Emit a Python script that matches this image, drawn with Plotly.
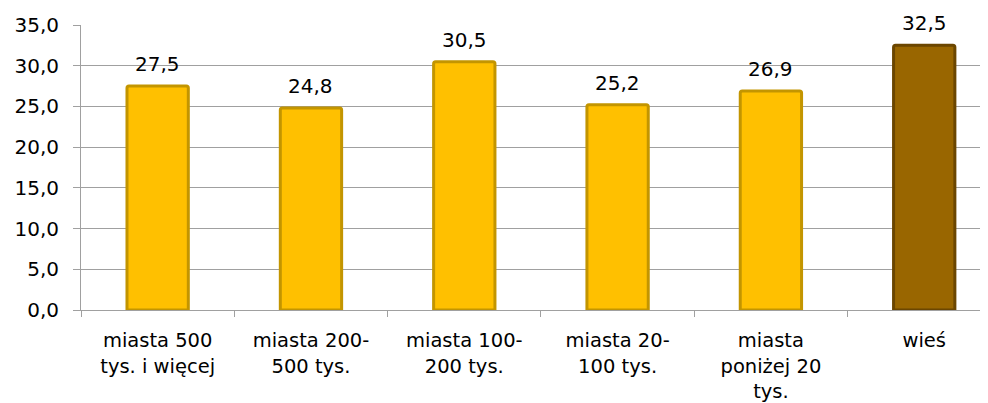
import plotly.graph_objects as go

categories = ["miasta 500<br>tys. i więcej", "miasta 200-<br>500 tys.", "miasta 100-<br>200 tys.",
              "miasta 20-<br>100 tys.", "miasta<br>poniżej 20<br>tys.", "wieś"]
values = [27.5, 24.8, 30.5, 25.2, 26.9, 32.5]
fill_colors = ["#FFC000", "#FFC000", "#FFC000", "#FFC000", "#FFC000", "#996600"]
line_colors = ["#C39500", "#C39500", "#C39500", "#C39500", "#C39500", "#6B4600"]
y_ticks = [0, 5, 10, 15, 20, 25, 30, 35]

FONT = "DejaVu Sans, Arial, sans-serif"

fig = go.Figure()
fig.add_trace(go.Bar(
    x=categories, y=values, width=0.40,
    marker=dict(color=fill_colors, line=dict(color=line_colors, width=3), cornerradius=2),
    hoverinfo="skip",
))

for c, v in zip(categories, values):
    fig.add_annotation(x=c, y=v, text=f"{v:.1f}".replace(".", ","), showarrow=False,
                       yanchor="bottom", yshift=8, font=dict(family=FONT, size=20, color="#000000"))

# page body adds an 8px offset, so the figure is sized to fit the 988x403 window
fig.update_layout(
    width=980, height=395,
    margin=dict(l=73, r=0, t=17, b=93),
    paper_bgcolor="white", plot_bgcolor="white",
    separators=", ",
    showlegend=False,
    font=dict(family=FONT, size=20, color="#000000"),
)
fig.update_xaxes(
    type="category", range=[-0.5, 5.416], automargin=False,
    showline=True, linecolor="#A0A0A0", linewidth=1,
    ticks="outside", tickson="boundaries", ticklen=6, tickcolor="#A0A0A0",
    ticklabelstandoff=13,
    tickfont=dict(family=FONT, size=19.5, color="#000000"),
    showgrid=False,
)
fig.update_yaxes(
    range=[0, 35], tickvals=y_ticks, tickformat=".1f", automargin=False,
    showline=True, linecolor="#A0A0A0", linewidth=1,
    ticks="outside", ticklen=7, tickcolor="#A0A0A0",
    ticklabelstandoff=10,
    showgrid=True, gridcolor="#A0A0A0", gridwidth=1,
    zeroline=False,
    tickfont=dict(family=FONT, size=20, color="#000000"),
)

fig.write_html("out.html")
